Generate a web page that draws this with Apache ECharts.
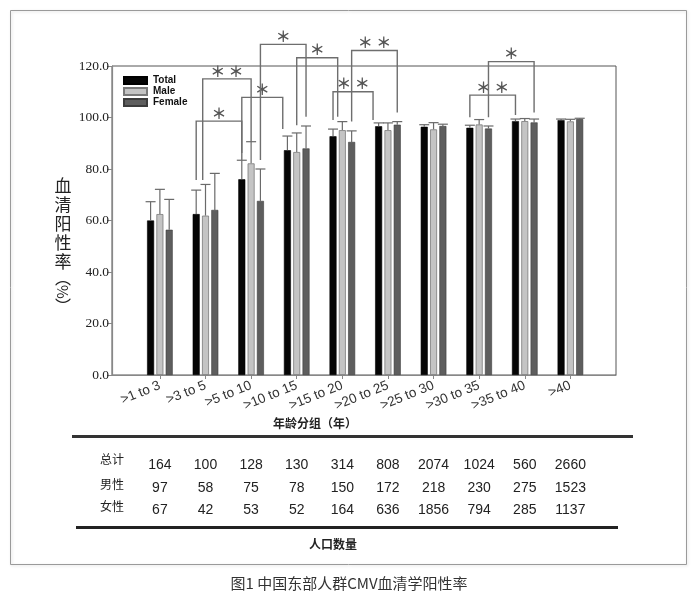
<!DOCTYPE html>
<html><head><meta charset="utf-8">
<script src="https://cdn.jsdelivr.net/npm/echarts@6/dist/echarts.min.js"></script>
<style>html,body{margin:0;padding:0;background:#fff}#c{width:698px;height:599px}</style>
</head><body><div id="c"></div>
<script>
const categories = ['>1 to 3','>3 to 5','>5 to 10','>10 to 15','>15 to 20','>20 to 25','>25 to 30','>30 to 35','>35 to 40','>40'];
const seriesNames = ['Total','Male','Female'];
const totalRate = [60.0, 62.5, 76.0, 87.3, 92.7, 96.6, 96.4, 96.0, 98.6, 99.0];
const maleRate = [62.5, 61.9, 82.2, 86.6, 95.1, 95.1, 95.4, 97.3, 98.6, 98.5];
const femaleRate = [56.4, 64.1, 67.6, 88.0, 90.5, 97.2, 96.7, 95.7, 98.1, 99.4];
const totalUpper = [67.3, 71.8, 83.4, 92.8, 95.5, 97.9, 97.2, 97.0, 99.4, 99.4];
const maleUpper = [72.1, 74.0, 90.6, 94.0, 98.4, 97.9, 98.0, 99.2, 99.6, 99.3];
const femaleUpper = [68.2, 78.3, 80.0, 96.7, 94.8, 98.4, 97.4, 96.7, 99.4, 99.7];
const totalN = [164,100,128,130,314,808,2074,1024,560,2660];
const maleN = [97,58,75,78,150,172,218,230,275,1523];
const femaleN = [67,42,53,52,164,636,1856,794,285,1137];
const rowLabels = ['总计','男性','女性'];
// significance brackets: [fromCat, fromSlot, toCat, toSlot, leftBottom, rightBottom, top, stars]
const brackets = [
  [1,0,2,0,75.7,83.5,98.6,1],
  [1,0.7,2,1,75.7,90.6,115,2],
  [2,0,3,-0.5,86.2,95.5,107.8,1],
  [2,2,3,2,83.5,100.3,128.4,1],
  [3,1,4,0.5,97,100.3,123.2,1],
  [4,0,5,-0.6,99,99,110,2],
  [4,2,5,2,98.4,101.9,126,2],
  [7,0,8,0,100.1,101,108.7,2],
  [7,2,8,2,100.1,101.9,121.7,1]
];

const BAR_W = 7, BAR_GAP = 0.33;
const SLOT = BAR_W * (1 + BAR_GAP);
const rates = [totalRate, maleRate, femaleRate];
const uppers = [totalUpper, maleUpper, femaleUpper];
const counts = [totalN, maleN, femaleN];
const barStyles = [
  {color:'#050505', borderColor:'#000', borderWidth:0.6},
  {color:'#c4c4c4', borderColor:'#7a7a7a', borderWidth:0.8},
  {color:'#5e5e5e', borderColor:'#3c3c3c', borderWidth:0.6}
];
const idx = categories.map((c,i)=>i);

const barSeries = seriesNames.map((n,s)=>({
  name:n, type:'bar', barWidth:BAR_W, barGap:(BAR_GAP*100)+'%',
  itemStyle:barStyles[s], data: rates[s].map((v,i)=>[i,v]), z:2
}));

const errData = [];
for (let s=0;s<3;s++) for (let i=0;i<categories.length;i++) errData.push([i, rates[s][i], uppers[s][i], s]);

const tableData = [];
for (let r=0;r<3;r++) for (let i=0;i<categories.length;i++) tableData.push([i, 0, counts[r][i], r]);

const ROW_OFF = [90, 113, 135];
const CJK = '"Noto Sans CJK SC"';

const chart = echarts.init(document.getElementById('c'));
chart.setOption({
  animation:false,
  backgroundColor:'#fff',
  grid:{left:112, right:82, top:66, bottom:224, show:true, borderColor:'#555', borderWidth:1, containLabel:false, outerBoundsMode:'none'},
  legend:{orient:'vertical', left:123, top:75, padding:0, itemWidth:23, itemHeight:7, itemGap:0, icon:'rect',
    data:seriesNames, textStyle:{fontSize:10, fontWeight:'bold', color:'#111', fontFamily:'Arial, Liberation Sans', lineHeight:11, padding:[0,0,0,1]}},
  xAxis:{type:'value', min:-1.05, max:10, interval:1,
    axisLine:{show:true, onZero:false, lineStyle:{color:'#888', width:1.2}},
    axisTick:{show:true, length:4, lineStyle:{color:'#888'}, customValues:idx},
    axisLabel:{customValues:idx, rotate:22, margin:10, fontSize:13.5, color:'#333', fontFamily:'Arial, Liberation Sans',
      formatter:(v)=>categories[Math.round(v)]},
    splitLine:{show:false}},
  yAxis:{type:'value', min:0, max:120, interval:20,
    axisLine:{show:true, onZero:false, lineStyle:{color:'#888', width:1.2}},
    axisTick:{show:true, length:5, lineStyle:{color:'#888'}},
    axisLabel:{margin:3, fontSize:13.5, color:'#222', fontFamily:'"Liberation Serif", "Times New Roman", serif',
      formatter:(v)=>v.toFixed(1)},
    splitLine:{show:false}},
  series:[
    ...barSeries,
    {type:'custom', name:'err', clip:false, z:3, data:errData, encode:{x:0, y:[1,2]},
      renderItem:(params, api)=>{
        const i=api.value(0), v=api.value(1), u=api.value(2), s=api.value(3);
        const p1=api.coord([i,v]), p2=api.coord([i,u]);
        const x=p1[0]+(s-1)*SLOT;
        return {type:'group', children:[
          {type:'line', shape:{x1:x,y1:p1[1],x2:x,y2:p2[1]}, style:{stroke:'#6a6a6a', lineWidth:1.2}},
          {type:'line', shape:{x1:x-5,y1:p2[1],x2:x+5,y2:p2[1]}, style:{stroke:'#6a6a6a', lineWidth:1.2}}
        ]};
      }},
    {type:'custom', name:'sig', clip:false, z:4, data:brackets, encode:{x:[0,2], y:[4,5,6]},
      renderItem:(params, api)=>{
        const c1=api.value(0), s1=api.value(1), c2=api.value(2), s2=api.value(3);
        const lb=api.value(4), rb=api.value(5), top=api.value(6), st=api.value(7);
        const xl=api.coord([c1,lb])[0]+(s1-1)*SLOT, yl=api.coord([c1,lb])[1];
        const xr=api.coord([c2,rb])[0]+(s2-1)*SLOT, yr=api.coord([c2,rb])[1];
        const yt=api.coord([c1,top])[1];
        return {type:'group', children:[
          {type:'polyline', shape:{points:[[xl,yl],[xl,yt],[xr,yt],[xr,yr]]}, style:{stroke:'#6e6e6e', lineWidth:1.4, fill:null}},
          {type:'text', x:(xl+xr)/2, y:yt-8, style:{text: st===2?'＊ ＊':'＊', fill:'#555', fontSize:15, fontWeight:'bold',
            fontFamily:CJK, align:'center', verticalAlign:'middle'}}
        ]};
      }},
    {type:'custom', name:'table', clip:false, z:4, data:tableData, encode:{x:0, y:1},
      renderItem:(params, api)=>{
        const i=api.value(0), n=api.value(2), r=api.value(3);
        const p=api.coord([i,0]);
        return {type:'text', x:p[0], y:p[1]+ROW_OFF[r], style:{text:String(n), fill:'#222', fontSize:14,
          fontFamily:'Arial, Liberation Sans', align:'center', verticalAlign:'middle'}};
      }}
  ],
  graphic:[
    {type:'rect', shape:{x:10.5,y:10.5,width:676,height:554}, style:{fill:'none', stroke:'#9a9a9a', lineWidth:1, shadowBlur:3, shadowColor:'rgba(0,0,0,0.15)', shadowOffsetX:1, shadowOffsetY:1}, z:-1},
    {type:'text', x:63, y:176, style:{text:'血\n清\n阳\n性\n率', fontSize:17, lineHeight:19, fill:'#222', align:'center', fontFamily:CJK}},
    {type:'text', x:63, y:278, style:{text:'︵', fontSize:16, fill:'#222', align:'center', verticalAlign:'middle', fontFamily:CJK}},
    {type:'group', x:63, y:292, rotation:-Math.PI/2, children:[
      {type:'text', x:0, y:0, style:{text:'%', fontSize:15, fill:'#222', align:'center', verticalAlign:'middle', fontFamily:CJK}}
    ]},
    {type:'text', x:63, y:306, style:{text:'︶', fontSize:16, fill:'#222', align:'center', verticalAlign:'middle', fontFamily:CJK}},
    {type:'text', x:315, y:423, style:{text:'年龄分组（年）', fontSize:12, fontWeight:'bold', fill:'#222', align:'center', verticalAlign:'middle', fontFamily:CJK}},
    {type:'line', shape:{x1:72,y1:436.5,x2:633,y2:436.5}, style:{stroke:'#333', lineWidth:3}},
    {type:'text', x:112, y:459, style:{text:rowLabels[0], fontSize:12, fill:'#222', align:'center', verticalAlign:'middle', fontFamily:CJK}},
    {type:'text', x:112, y:484, style:{text:rowLabels[1], fontSize:12, fill:'#222', align:'center', verticalAlign:'middle', fontFamily:CJK}},
    {type:'text', x:112, y:506, style:{text:rowLabels[2], fontSize:12, fill:'#222', align:'center', verticalAlign:'middle', fontFamily:CJK}},
    {type:'line', shape:{x1:76,y1:527.5,x2:618,y2:527.5}, style:{stroke:'#222', lineWidth:3}},
    {type:'text', x:333, y:544, style:{text:'人口数量', fontSize:12, fontWeight:'bold', fill:'#222', align:'center', verticalAlign:'middle', fontFamily:CJK}},
    {type:'text', x:349, y:583, style:{text:'图1 中国东部人群CMV血清学阳性率', fontSize:15, fill:'#333', align:'center', verticalAlign:'middle', fontFamily:CJK}}
  ]
});
</script></body></html>
